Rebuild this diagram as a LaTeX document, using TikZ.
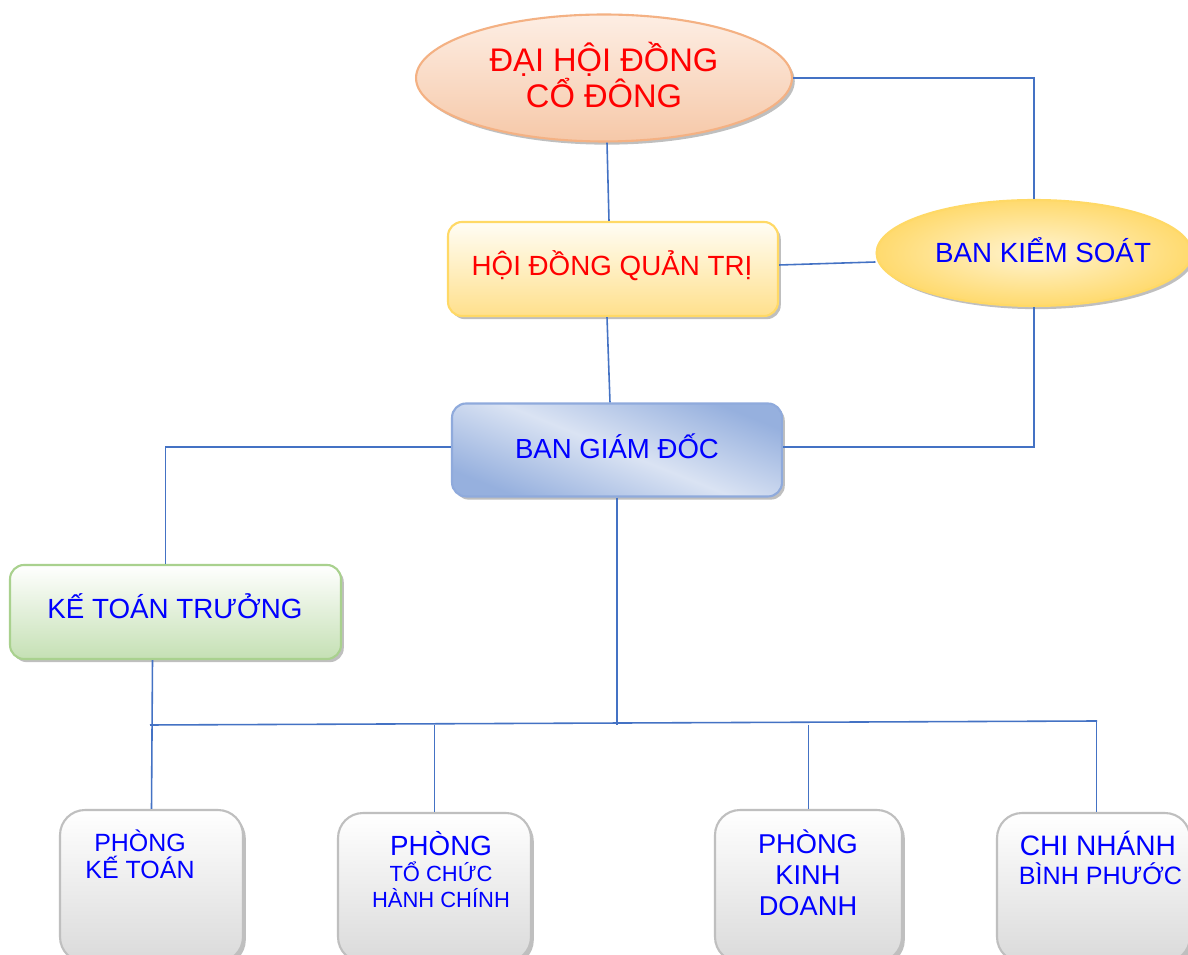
\documentclass[tikz,border=0pt]{standalone}
\usepackage{fontspec}
\setmainfont{Liberation Sans}
\usetikzlibrary{shapes.geometric,shadows}
\definecolor{linec}{RGB}{68,114,196}
\definecolor{tblue}{RGB}{0,0,255}
\definecolor{tred}{RGB}{255,0,0}
\definecolor{peachtop}{RGB}{253,238,228}
\definecolor{peachbot}{RGB}{246,200,168}
\definecolor{peachline}{RGB}{244,177,131}
\definecolor{yeltop}{RGB}{255,253,245}
\definecolor{yelbot}{RGB}{255,224,140}
\definecolor{yelline}{RGB}{255,217,102}
\definecolor{ylin}{RGB}{255,244,210}
\definecolor{ylout}{RGB}{255,218,110}
\definecolor{bluelight}{RGB}{218,227,243}
\definecolor{bluedark}{RGB}{150,176,222}
\definecolor{blueline}{RGB}{143,170,220}
\definecolor{greentop}{RGB}{255,255,255}
\definecolor{greenbot}{RGB}{197,224,180}
\definecolor{greenline}{RGB}{169,209,142}
\definecolor{graytop}{RGB}{255,255,255}
\definecolor{graybot}{RGB}{218,218,218}
\definecolor{grayline}{RGB}{191,191,191}
\tikzset{
  conn/.style={draw=linec, line width=0.9pt},
  shad/.style={drop shadow={shadow xshift=1.6pt, shadow yshift=-1.8pt, opacity=0.45, fill=black!55}},
  ellred/.style={ellipse, draw=peachline, line width=1.2pt, top color=peachtop, bottom color=peachbot, shad, inner sep=0pt},
  ellyel/.style={ellipse, draw=yelline, line width=1.2pt, inner color=ylin, outer color=ylout, shad, inner sep=0pt},
  boxyel/.style={rectangle, rounded corners=0.28cm, draw=yelline, line width=1.2pt, top color=yeltop, bottom color=yelbot, shad},
  boxblue/.style={rectangle, rounded corners=0.28cm, draw=blueline, line width=1.2pt, top color=bluedark, bottom color=bluedark, middle color=bluelight, shading angle=-22, shad},
  boxgreen/.style={rectangle, rounded corners=0.28cm, draw=greenline, line width=1.2pt, top color=greentop, bottom color=greenbot, shad},
  boxgray/.style={rectangle, rounded corners=0.5cm, draw=grayline, line width=1.2pt, top color=graytop, bottom color=graybot, shad},
  lbl/.style={align=center, text=tblue, inner sep=0pt}
}
\begin{document}
\begin{tikzpicture}[x=0.02cm, y=-0.02cm]
\path[use as bounding box, clip] (0,0) rectangle (1188,955);
\fill[white] (0,0) rectangle (1188,955);

\coordinate (busL) at (150,725);
\coordinate (busR) at (1097,721);

\node[ellred, minimum width=7.52cm, minimum height=2.54cm] (dh) at (604,78) {};
\node[boxyel, minimum width=6.6cm, minimum height=1.88cm] (hdqt) at (613,269) {};
\node[ellyel, minimum width=6.3cm, minimum height=2.12cm] (bks) at (1034,253) {};
\node[boxblue, minimum width=6.6cm, minimum height=1.86cm] (bgd) at (617,450) {};
\node[boxgreen, minimum width=6.62cm, minimum height=1.88cm] (ktt) at (175.5,612) {};
\node[boxgray, minimum width=3.66cm, minimum height=3.04cm] (pkt) at (151.5,886) {};
\node[boxgray, minimum width=3.86cm, minimum height=2.98cm] (ptc) at (434.5,887.5) {};
\node[boxgray, minimum width=3.74cm, minimum height=3.04cm] (pkd) at (808.5,886) {};
\node[boxgray, minimum width=3.86cm, minimum height=2.98cm] (cnb) at (1093.5,887.5) {};

% texts
\node[align=center, text=tred, inner sep=0pt, font=\fontsize{18.6}{21}\selectfont] (tdh) at (604,75) {ĐẠI HỘI ĐỒNG\\CỔ ĐÔNG};
\node[text=tred, inner sep=0pt, font=\fontsize{15.8}{17}\selectfont] (thdqt) at (612,266) {HỘI ĐỒNG QUẢN TRỊ};
\node[lbl, font=\fontsize{15.8}{17}\selectfont] (tbks) at (1043,250) {BAN KIỂM SOÁT};
\node[lbl, font=\fontsize{15.7}{17}\selectfont] (tbgd) at (617,446) {BAN GIÁM ĐỐC};
\node[lbl, font=\fontsize{15.8}{17}\selectfont] (tktt) at (175,606) {KẾ TOÁN TRƯỞNG};
\node[lbl, font=\fontsize{14.2}{15.5}\selectfont] (tpkt) at (140,854) {PHÒNG\\KẾ TOÁN};
\node[lbl, font=\fontsize{15.8}{16}\selectfont, anchor=center] (tptc1) at (441,844) {PHÒNG};
\node[lbl, font=\fontsize{12.5}{15}\selectfont, anchor=north] (tptc2) at (tptc1.south) [yshift=-0.1cm] {TỔ CHỨC\\HÀNH CHÍNH};
\node[lbl, font=\fontsize{15.5}{17.5}\selectfont] (tpkd) at (808,873) {PHÒNG\\KINH\\DOANH};
\node[lbl, font=\fontsize{16}{16.5}\selectfont] (tcnb) at (1098,858) {CHI NHÁNH\\\hspace*{0.1cm}\fontsize{14.3}{16.5}\selectfont BÌNH PHƯỚC};

% connectors
\draw[conn] ([xshift=0.06cm]dh.south) -- ([xshift=-0.08cm]hdqt.north);
\draw[conn] (dh.east) -| (bks.north);
\draw[conn] ([yshift=0.08cm]hdqt.east) -- ([yshift=-0.18cm]bks.west);
\draw[conn] ([xshift=-0.12cm]hdqt.south) -- ([xshift=-0.14cm]bgd.north);
\draw[conn] (bks.south) |- ([yshift=0.06cm]bgd.east);
\draw[conn] ([yshift=0.06cm]bgd.west) -| ([xshift=-0.2cm]ktt.north);
\draw[conn] (bgd.south) -- (bgd.south |- busL);
\draw[conn] ([xshift=-0.46cm]ktt.south) -- (pkt.north);
\draw[conn] (busL) -- (busR);
\draw[conn] (ptc.north |- busL) -- (ptc.north);
\draw[conn] (pkd.north |- busL) -- (pkd.north);
\draw[conn] ([xshift=0.06cm]cnb.north |- busR) -- ([xshift=0.06cm]cnb.north);
\end{tikzpicture}
\end{document}
